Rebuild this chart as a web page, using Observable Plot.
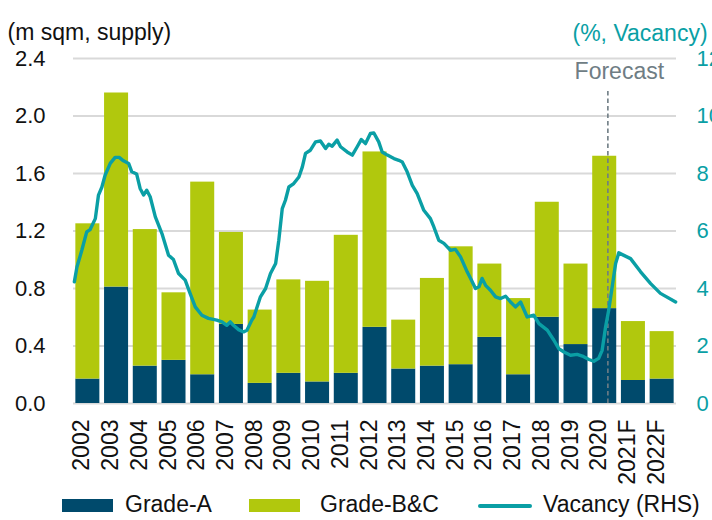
<!DOCTYPE html>
<html>
<head>
<meta charset="utf-8">
<script src="https://cdn.jsdelivr.net/npm/d3@7"></script>
<script src="https://cdn.jsdelivr.net/npm/@observablehq/plot@0.6"></script>
<style>
  html, body { margin: 0; padding: 0; background: #fff; overflow: hidden; }
  #root { position: relative; width: 712px; height: 520px; font-family: Arial, "Liberation Sans", sans-serif; }
  .sw { position: absolute; }
  .lt { position: absolute; font-size: 23px; line-height: 1; color: #111; white-space: nowrap; }
</style>
</head>
<body>
<div id="root"></div>
<script>
// ---- data ----
const categories = ["2002","2003","2004","2005","2006","2007","2008","2009","2010","2011","2012","2013","2014","2015","2016","2017","2018","2019","2020","2021F","2022F"];
const gradeA  = [0.17,0.81,0.26,0.30,0.20,0.55,0.14,0.21,0.15,0.21,0.53,0.24,0.26,0.27,0.46,0.20,0.60,0.41,0.66,0.16,0.17];
const gradeBC = [1.08,1.35,0.95,0.47,1.34,0.64,0.51,0.65,0.70,0.96,1.22,0.34,0.61,0.82,0.51,0.53,0.80,0.56,1.06,0.41,0.33];
const leftTicks = [0, 0.4, 0.8, 1.2, 1.6, 2.0, 2.4];
const rightTicks = [0, 2, 4, 6, 8, 10, 12];
const forecastStart = 2020.61;
// vacancy (%), time in decimal years
const vacancyTime = [2002.03,2002.12,2002.29,2002.46,2002.58,2002.76,2002.87,2002.99,2003.10,2003.28,2003.45,2003.59,2003.74,2003.92,2004.03,2004.20,2004.32,2004.44,2004.55,2004.67,2004.85,2005.08,2005.31,2005.48,2005.66,2005.89,2006.06,2006.24,2006.47,2006.70,2006.99,2007.17,2007.34,2007.46,2007.57,2007.75,2007.92,2008.04,2008.21,2008.28,2008.51,2008.69,2008.86,2009.04,2009.15,2009.27,2009.38,2009.50,2009.67,2009.85,2009.97,2010.08,2010.25,2010.43,2010.60,2010.78,2010.89,2011.01,2011.18,2011.30,2011.53,2011.71,2011.88,2012.02,2012.17,2012.34,2012.46,2012.63,2012.75,2012.93,2013.16,2013.33,2013.45,2013.62,2013.80,2013.97,2014.20,2014.43,2014.55,2014.72,2014.90,2015.13,2015.30,2015.48,2015.71,2015.83,2016.00,2016.12,2016.23,2016.35,2016.52,2016.70,2016.87,2017.05,2017.22,2017.39,2017.57,2017.80,2018.03,2018.21,2018.50,2018.73,2018.90,2019.08,2019.31,2019.54,2019.72,2019.95,2020.12,2020.29,2020.41,2020.53,2020.64,2020.76,2020.88,2020.99,2021.40,2021.75,2022.10,2022.44,2022.97];
const vacancyRate = [4.23,4.75,5.33,5.97,6.05,6.43,7.25,7.53,7.94,8.35,8.56,8.56,8.44,8.35,8.06,7.98,7.48,7.25,7.42,7.19,6.49,5.91,5.16,5.01,4.52,4.29,3.83,3.36,3.07,2.96,2.90,2.84,2.72,2.84,2.72,2.57,2.49,2.55,2.90,3.01,3.71,4.00,4.52,4.87,5.68,6.78,7.07,7.53,7.65,7.88,8.23,8.70,8.81,9.10,9.13,8.87,9.02,8.95,9.16,8.93,8.75,8.64,8.93,9.18,9.04,9.39,9.41,9.10,8.75,8.64,8.52,8.46,8.40,8.06,7.59,7.30,6.72,6.43,6.14,5.68,5.57,5.33,5.36,5.10,4.58,4.35,4.00,4.06,4.35,4.11,3.94,3.71,3.65,3.73,3.53,3.36,3.53,3.01,3.07,2.78,2.55,2.20,1.91,1.79,1.68,1.71,1.65,1.53,1.47,1.57,1.85,2.66,3.25,4.06,4.87,5.24,5.04,4.58,4.17,3.83,3.53];

// ---- style ----
const NAVY = "#004a6c", LIME = "#b1c80d", TEAL = "#0a9fa5", GREY = "#6f7d84";
const rhsFactor = 2.4 / 12;
const yearOf = d => parseInt(d, 10);

const chart = Plot.plot({
  width: 712,
  height: 485,
  marginLeft: 73,
  marginRight: 36,
  marginTop: 58,
  marginBottom: 82,
  x: { type: "linear", domain: [2002, 2023], axis: null },
  y: { domain: [0, 2.4], axis: null },
  style: { fontFamily: "Arial, 'Liberation Sans', sans-serif", background: "white", color: "#111" },
  marks: [
    Plot.ruleY(leftTicks, { stroke: "#d9d9d9", strokeWidth: 2 }),
    Plot.rectY(categories, {
      x1: d => yearOf(d), x2: d => yearOf(d) + 1,
      y1: () => 0, y2: (d, i) => gradeA[i],
      fill: NAVY, insetLeft: 2.35, insetRight: 2.35
    }),
    Plot.rectY(categories, {
      x1: d => yearOf(d), x2: d => yearOf(d) + 1,
      y1: (d, i) => gradeA[i], y2: (d, i) => gradeA[i] + gradeBC[i],
      fill: LIME, insetLeft: 2.35, insetRight: 2.35
    }),
    Plot.ruleX([forecastStart], { y1: 0, y2: 2.19, stroke: GREY, strokeWidth: 1.6, strokeDasharray: "4.5,3" }),
    Plot.text(["Forecast"], { x: 2021.01, y: 2.31, text: d => d, fill: GREY, fontSize: 23, textAnchor: "middle" }),
    Plot.line(vacancyTime, { x: d => d, y: (d, i) => vacancyRate[i] * rhsFactor, stroke: TEAL, strokeWidth: 3.4, strokeLinejoin: "round" }),
    // left axis labels
    Plot.text(leftTicks, { y: d => d, text: d => d.toFixed(1), frameAnchor: "left", textAnchor: "end", dx: -28, fontSize: 22, fill: "#111" }),
    // right axis labels
    Plot.text(rightTicks, { y: d => d * rhsFactor, text: d => String(d), frameAnchor: "right", textAnchor: "start", dx: 20, fontSize: 22, fill: TEAL }),
    // year labels
    Plot.text(categories, { x: d => yearOf(d) + 0.5, text: d => d, frameAnchor: "bottom", rotate: -90, textAnchor: "end", dy: 16, dx: 1.5, fontSize: 23, fill: "#111" }),
    // axis titles
    Plot.text(["(m sqm, supply)"], { text: d => d, frameAnchor: "top-left", textAnchor: "start", dx: -66, dy: -35, fontSize: 23, fill: "#111" }),
    Plot.text(["(%, Vacancy)"], { text: d => d, frameAnchor: "top-right", textAnchor: "start", dx: -104, dy: -34, fontSize: 23, fill: TEAL })
  ]
});

const root = document.getElementById("root");
root.appendChild(chart);

// legend
const legend = [
  { html: `<div class="sw" style="left:62px;top:499px;width:51px;height:13px;background:${NAVY}"></div>` },
  { html: `<div class="lt" style="left:125px;top:492.5px">Grade-A</div>` },
  { html: `<div class="sw" style="left:249px;top:499px;width:51px;height:13px;background:${LIME}"></div>` },
  { html: `<div class="lt" style="left:320px;top:492.5px">Grade-B&amp;C</div>` },
  { html: `<div class="sw" style="left:478px;top:503.5px;width:54px;height:4px;border-radius:2px;background:${TEAL}"></div>` },
  { html: `<div class="lt" style="left:543px;top:492.5px">Vacancy (RHS)</div>` }
];
root.insertAdjacentHTML("beforeend", legend.map(d => d.html).join(""));
</script>
</body>
</html>
